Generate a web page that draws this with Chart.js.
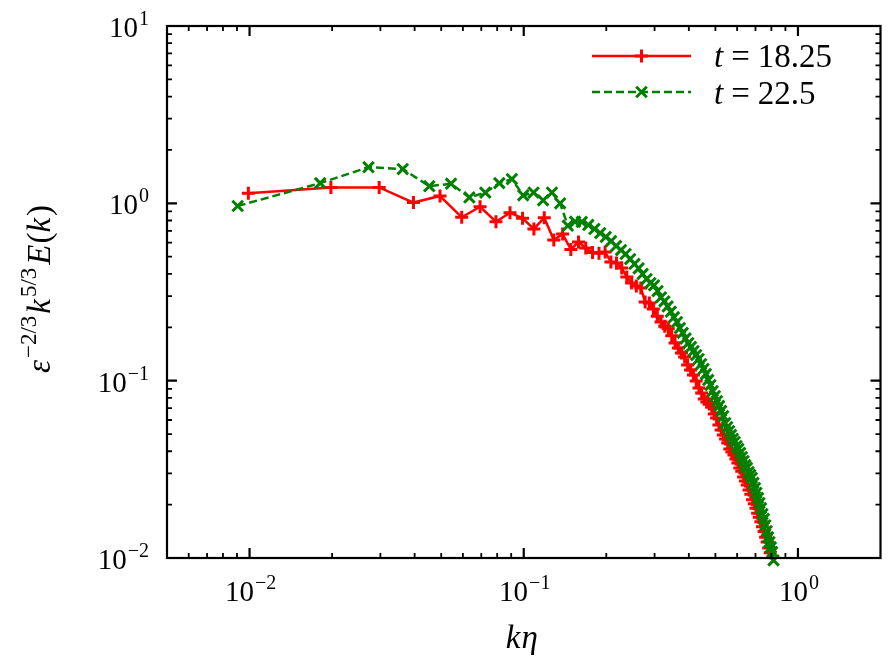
<!DOCTYPE html>
<html><head><meta charset="utf-8">
<script src="https://cdn.jsdelivr.net/npm/chart.js@4.4.1/dist/chart.umd.min.js"></script>
<style>html,body{margin:0;padding:0;background:#fff;}#wrap{width:891px;height:668px;position:relative;}</style>
</head><body><div id="wrap"><canvas id="c" width="891" height="668"></canvas></div>
<script>
// ---- data ----
const seriesLabels = ['18.25', '22.5'];
const kRed = [0.0099,0.0198,0.0297,0.0396,0.0495,0.0594,0.0693,0.0792,0.0891,0.099,
  0.1089,0.1188,0.1287,0.1386,0.1485,0.1584,0.1683,0.1782,0.1881,0.198,
  0.2079,0.2178,0.2277,0.2376,0.2475,0.2574,0.2673,0.2772,0.2871,0.297,
  0.3069,0.3168,0.3267,0.3366,0.3465,0.3564,0.3663,0.3762,0.3861,0.396,
  0.4059,0.4158,0.4257,0.4356,0.4455,0.4554,0.4653,0.4752,0.4851,0.495,
  0.5049,0.5148,0.5247,0.5346,0.5445,0.5544,0.5643,0.5742,0.5841,0.594,
  0.6039,0.6138,0.6237,0.6336,0.6435,0.6534,0.6633,0.6732,0.6831,0.693,
  0.7029,0.7128,0.7227,0.7326,0.7425,0.7524,0.7623,0.7722,0.7821,0.792];
const eRed = [1.14,1.23,1.23,1.01,1.10,0.834,0.957,0.788,0.886,0.823,
  0.717,0.830,0.621,0.671,0.550,0.605,0.560,0.528,0.523,0.531,
  0.467,0.461,0.432,0.384,0.355,0.342,0.333,0.278,0.274,0.254,
  0.231,0.214,0.203,0.196,0.179,0.163,0.153,0.143,0.136,0.1225,
  0.1148,0.1076,0.0996,0.0909,0.0852,0.0788,0.0758,0.0739,0.0710,0.0649,
  0.0616,0.0562,0.0527,0.0494,0.0469,0.0445,0.0412,0.0396,0.0381,0.0362,
  0.0343,0.0322,0.0308,0.0286,0.0272,0.0258,0.0242,0.0229,0.0213,0.0202,
  0.0191,0.0179,0.0170,0.0160,0.0150,0.0141,0.0131,0.0123,0.0114,0.0107];
const kGreen = [0.00905,0.0181,0.02715,0.0362,0.04525,0.0543,0.06335,0.0724,0.08145,0.0905,
  0.09955,0.1086,0.11765,0.1267,0.13575,0.1448,0.15385,0.1629,0.17195,0.181,
  0.19005,0.1991,0.20815,0.2172,0.22625,0.2353,0.24435,0.2534,0.26245,0.2715,
  0.28055,0.2896,0.29865,0.3077,0.31675,0.3258,0.33485,0.3439,0.35295,0.362,
  0.37105,0.3801,0.38915,0.3982,0.40725,0.4163,0.42535,0.4344,0.44345,0.4525,
  0.46155,0.4706,0.47965,0.4887,0.49775,0.5068,0.51585,0.5249,0.53395,0.543,
  0.55205,0.5611,0.57015,0.5792,0.58825,0.5973,0.60635,0.6154,0.62445,0.6335,
  0.64255,0.6516,0.66065,0.6697,0.67875,0.6878,0.69685,0.7059,0.71495,0.724,
  0.73305,0.7421,0.75115,0.7602,0.76925,0.7783,0.78735,0.7964,0.80545,0.8145];
const eGreen = [0.966,1.30,1.60,1.56,1.25,1.29,1.08,1.15,1.30,1.37,
  1.11,1.15,1.04,1.15,1.00,0.748,0.788,0.785,0.755,0.717,
  0.680,0.646,0.613,0.575,0.545,0.518,0.485,0.455,0.430,0.400,
  0.374,0.355,0.345,0.320,0.295,0.280,0.262,0.245,0.228,0.214,
  0.198,0.186,0.173,0.163,0.155,0.147,0.1395,0.1325,0.124,0.1164,
  0.109,0.1009,0.0945,0.0874,0.0819,0.0768,0.0720,0.0675,0.0632,0.0577,
  0.0548,0.0520,0.0494,0.0469,0.0451,0.0428,0.0412,0.0391,0.0371,0.0352,
  0.0334,0.0322,0.0305,0.0294,0.0283,0.0265,0.0248,0.0233,0.0218,0.0204,
  0.0191,0.0177,0.0166,0.0153,0.0142,0.0131,0.0123,0.0115,0.0108,0.0097];
const xTickExps = [-2, -1, 0];
const yTickExps = [-2, -1, 0, 1];
const xRange = [0.005, 2];
const yRange = [0.01, 10];

// ---- style ----
const RED = '#ff0000', GREEN = '#008000';
const SERIF = '"Liberation Serif","Times New Roman",serif';

function pts(xs, ys) { const n = Math.min(xs.length, ys.length); const a = []; for (let i = 0; i < n; i++) a.push({x: xs[i], y: ys[i]}); return a; }

function drawParts(ctx, parts, x, y, align) {
  let w = 0;
  parts.forEach(p => { ctx.font = p.font; p.w = ctx.measureText(p.text).width + (p.gap || 0); w += p.w; });
  let sx = align === 'center' ? x - w / 2 : (align === 'right' ? x - w : x);
  ctx.textAlign = 'left'; ctx.textBaseline = 'alphabetic';
  parts.forEach(p => { ctx.font = p.font; ctx.fillText(p.text, sx, y + (p.dy || 0)); sx += p.w; });
}
function powParts(e) {
  const s = e < 0 ? '\u2212' + (-e) : String(e);
  return [{text: '10', font: '29px ' + SERIF, gap: 1}, {text: s, font: '20px ' + SERIF, dy: -12}];
}

const decor = {
  id: 'decor',
  afterDatasetsDraw(chart) {
    const ctx = chart.ctx, a = chart.chartArea, xs = chart.scales.x, ys = chart.scales.y;
    ctx.save();
    ctx.strokeStyle = '#000'; ctx.fillStyle = '#000';
    const majL = 10, minL = 5;
    const xT = [], yT = [];
    for (let d = -3; d <= 0; d++) for (let m = 1; m <= 9; m++) {
      const v = m * Math.pow(10, d);
      if (v > xRange[0] && v < xRange[1]) xT.push({v, maj: m === 1});
    }
    for (let d = -2; d <= 1; d++) for (let m = 1; m <= 9; m++) {
      const v = m * Math.pow(10, d);
      if (v >= yRange[0] && v <= yRange[1] * 1.0001) yT.push({v, maj: m === 1});
    }
    xT.forEach(t => {
      const p = xs.getPixelForValue(t.v), L = t.maj ? majL : minL;
      ctx.lineWidth = t.maj ? 2.2 : 1.8;
      ctx.beginPath(); ctx.moveTo(p, a.bottom); ctx.lineTo(p, a.bottom - L);
      ctx.moveTo(p, a.top); ctx.lineTo(p, a.top + L); ctx.stroke();
    });
    yT.forEach(t => {
      const p = ys.getPixelForValue(t.v), L = t.maj ? majL : minL;
      ctx.lineWidth = t.maj ? 2.2 : 1.8;
      ctx.beginPath(); ctx.moveTo(a.left, p); ctx.lineTo(a.left + L, p);
      ctx.moveTo(a.right, p); ctx.lineTo(a.right - L, p); ctx.stroke();
    });
    ctx.lineWidth = 2.2;
    ctx.strokeRect(a.left, a.top, a.right - a.left, a.bottom - a.top);
    // tick labels
    xTickExps.forEach(e => drawParts(ctx, powParts(e), xs.getPixelForValue(Math.pow(10, e)) + 1, a.bottom + 43, 'center'));
    yTickExps.forEach(e => drawParts(ctx, powParts(e), a.left - 18, ys.getPixelForValue(Math.pow(10, e)) + 11, 'right'));
    // axis titles
    const it = 'italic 33px ' + SERIF, rm = '33px ' + SERIF, sup = '23px ' + SERIF;
    drawParts(ctx, [{text: 'k', font: it, gap: 1}, {text: '\u03b7', font: it}], (a.left + a.right) / 2 - 2, 648, 'center');
    ctx.save();
    ctx.translate(50, 289); ctx.rotate(-Math.PI / 2);
    drawParts(ctx, [
      {text: '\u03b5', font: it, gap: 2},
      {text: '\u22122/3', font: sup, dy: -14, gap: 2},
      {text: 'k', font: it, gap: 2},
      {text: '5/3', font: sup, dy: -14, gap: 3},
      {text: 'E', font: it, gap: 1},
      {text: '(', font: rm},
      {text: 'k', font: it, gap: 2},
      {text: ')', font: rm}
    ], 0, 0, 'center');
    ctx.restore();
    // legend
    const rows = [
      {y: 56, color: RED, dash: [], style: 'cross', r: 6.5, label: seriesLabels[0], ty: 67},
      {y: 92, color: GREEN, dash: [8, 4], style: 'crossRot', r: 7.5, label: seriesLabels[1], ty: 104}
    ];
    rows.forEach(row => {
      ctx.strokeStyle = row.color; ctx.lineWidth = 2.5; ctx.setLineDash(row.dash);
      ctx.beginPath(); ctx.moveTo(592, row.y); ctx.lineTo(691, row.y); ctx.stroke();
      ctx.setLineDash([]); ctx.lineWidth = 3;
      Chart.helpers.drawPoint(ctx, {pointStyle: row.style, radius: row.r, borderWidth: 3}, 641.5, row.y);
      ctx.fillStyle = '#000';
      drawParts(ctx, [{text: 't', font: 'italic 33px ' + SERIF, gap: 8}, {text: '=', font: '33px ' + SERIF, gap: 8}, {text: row.label, font: '33px ' + SERIF}], 714, row.ty, 'left');
    });
    ctx.restore();
  }
};

new Chart(document.getElementById('c'), {
  type: 'line',
  data: {
    datasets: [
      {label: 't = ' + seriesLabels[0], data: pts(kRed, eRed), borderColor: RED, backgroundColor: RED,
       borderWidth: 2.5, pointStyle: 'cross', pointRadius: 6.5, pointBorderWidth: 3, pointBorderColor: RED,
       fill: false, tension: 0, order: 2, clip: false},
      {label: 't = ' + seriesLabels[1], data: pts(kGreen, eGreen), borderColor: GREEN, backgroundColor: GREEN,
       borderWidth: 2.5, borderDash: [8, 4], pointStyle: 'crossRot', pointRadius: 7.5, pointBorderWidth: 3, pointBorderColor: GREEN,
       fill: false, tension: 0, order: 1, clip: false}
    ]
  },
  options: {
    responsive: false, animation: false, events: [],
    layout: {padding: {left: 167, right: 6, top: 26, bottom: 110}},
    plugins: {legend: {display: false}, tooltip: {enabled: false}},
    scales: {
      x: {type: 'logarithmic', min: xRange[0], max: xRange[1], display: false},
      y: {type: 'logarithmic', min: yRange[0], max: yRange[1], display: false}
    }
  },
  plugins: [decor]
});
</script>
</body></html>
